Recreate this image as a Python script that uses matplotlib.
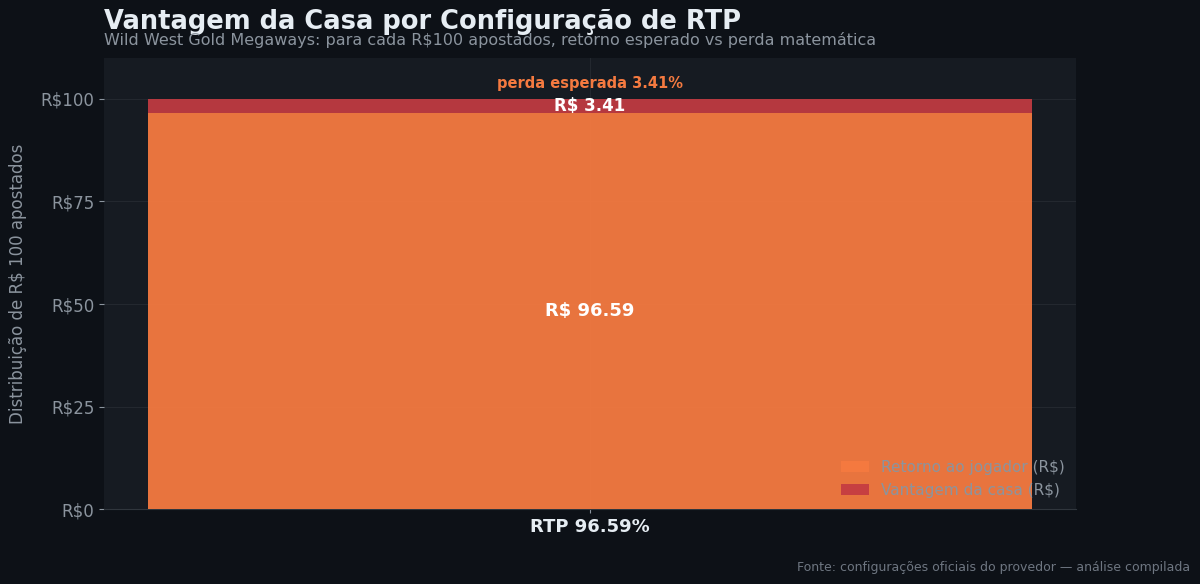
import matplotlib
matplotlib.use("Agg")
import matplotlib.pyplot as plt

categories = ["RTP 96.59%"]
player_return = [96.59]
house_edge = [3.41]
loss_pct = [3.41]
yticks = [0, 25, 50, 75, 100]
ytick_labels = ["R$0", "R$25", "R$50", "R$75", "R$100"]

BG = "#0d1117"
AX_BG = "#161b22"
ORANGE = "#f57a40"
RED = "#c43b42"
GREY = "#8b949e"
LIGHT = "#e6edf3"

fig = plt.figure(figsize=(12, 5.84), dpi=100, facecolor=BG)
ax = fig.add_axes([0.0867, 0.1284, 0.81, 0.7723])
ax.set_facecolor(AX_BG)

x = list(range(len(categories)))
ax.bar(x, player_return, width=0.6, color=ORANGE, alpha=0.95,
       label="Retorno ao jogador (R$)", zorder=3)
ax.bar(x, house_edge, bottom=player_return, width=0.6, color=RED, alpha=0.92,
       label="Vantagem da casa (R$)", zorder=3)

for i in x:
    ax.text(i, player_return[i] / 2, f"R$ {player_return[i]:.2f}", ha="center", va="center",
            color="white", fontsize=13, fontweight="bold", zorder=4)
    ax.text(i, player_return[i] + house_edge[i] / 2, f"R$ {house_edge[i]:.2f}", ha="center",
            va="center", color="white", fontsize=12, fontweight="bold", zorder=4)
    ax.text(i, player_return[i] + house_edge[i] + 3.9, f"perda esperada {loss_pct[i]:.2f}%",
            ha="center", va="center", color=ORANGE, fontsize=10.5, fontweight="bold", zorder=4)

ax.set_ylim(0, 110)
ax.set_yticks(yticks)
ax.set_yticklabels(ytick_labels)
ax.set_xticks(x)
ax.set_xticklabels(categories, fontsize=13, fontweight="bold", color=LIGHT)
ax.tick_params(axis="y", colors=GREY, labelsize=12)
ax.tick_params(axis="x", colors=GREY, length=3)
for lbl in ax.get_xticklabels():
    lbl.set_color(LIGHT)
ax.set_ylabel("Distribuição de R$ 100 apostados", color=GREY, fontsize=12, labelpad=10)
ax.grid(True, color="#30363d", alpha=0.5, linewidth=0.8, zorder=0)
ax.set_axisbelow(True)
for s in ["top", "right", "left"]:
    ax.spines[s].set_visible(False)
ax.spines["bottom"].set_color("#30363d")

leg = ax.legend(loc="lower right", frameon=False, fontsize=11, handlelength=1.8,
                borderaxespad=0.35)
for t in leg.get_texts():
    t.set_color(GREY)

fig.text(0.0867, 0.962, "Vantagem da Casa por Configuração de RTP", fontsize=18.5,
         fontweight="bold", color=LIGHT, ha="left", va="center")
fig.text(0.0867, 0.931, "Wild West Gold Megaways: para cada R$100 apostados, retorno esperado vs perda matemática",
         fontsize=11.5, color=GREY, ha="left", va="center")
fig.text(0.992, 0.029, "Fonte: configurações oficiais do provedor — análise compilada",
         fontsize=9, color="#6e7681", ha="right", va="center")

fig.savefig("out.png", dpi=100, facecolor=BG)
